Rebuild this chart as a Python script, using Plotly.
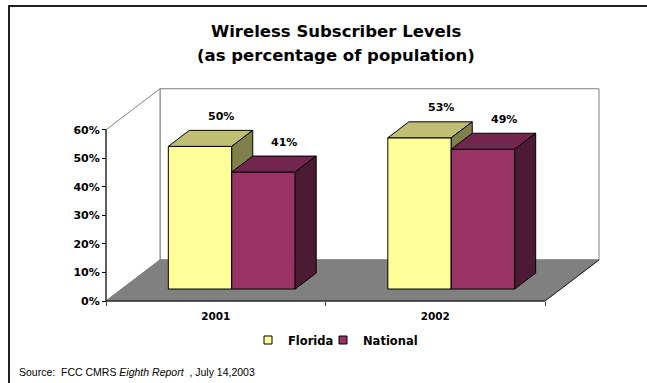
import plotly.graph_objects as go

# ---- data ----
categories = ["2001", "2002"]
series_names = ["Florida", "National"]
florida = [50, 53]
national = [41, 49]
values = [florida, national]
y_tick_values = [0, 10, 20, 30, 40, 50, 60]
y_tick_labels = ["0%", "10%", "20%", "30%", "40%", "50%", "60%"]

# ---- styling ----
front_colors = ["#FFFF99", "#993366"]
top_colors = ["#BFBF73", "#73264D"]
side_colors = ["#80804D", "#4D1A33"]
floor_color = "#808080"
wall_line = "#808080"
BOLD_FONT = "DejaVu Sans"

# canvas / plot-area geometry (pixels)
FIG_W, FIG_H = 647, 383
L, R, T, B = 98, 606, 84, 306
PW, PH = R - L, B - T

# oblique projection of the 3D box, in axis units
X0, X1 = -0.5, len(categories) - 0.5
Y_MAX = 60
DEPTH_X, DEPTH_Y = 0.246, 14.4          # full floor depth
FRONT_DX, FRONT_DY = 0.0729, 4.2        # bar front plane
BAR_DX, BAR_DY = 0.0957, 5.6            # bar depth
BAR_W = 0.289

# axis ranges so the front-left corner lands where the box starts
px_per_x = 219.5
px_per_y = 2.853
front_left_px = (106, 301)
x_range = [X0 - (front_left_px[0] - L) / px_per_x, X0 + (R - front_left_px[0]) / px_per_x]
y_range = [-(B - front_left_px[1]) / px_per_y, (front_left_px[1] - T) / px_per_y]


def paper_x(px):
    return (px - L) / PW


def paper_y(py):
    return (B - py) / PH


def poly_path(pts):
    return "M " + " L ".join(f"{x},{y}" for x, y in pts) + " Z"


fig = go.Figure()

# ---- walls and floor ----
shapes = []
back_wall = [(X0 + DEPTH_X, DEPTH_Y), (X1 + DEPTH_X, DEPTH_Y),
             (X1 + DEPTH_X, Y_MAX + DEPTH_Y), (X0 + DEPTH_X, Y_MAX + DEPTH_Y)]
left_wall = [(X0, 0), (X0 + DEPTH_X, DEPTH_Y), (X0 + DEPTH_X, Y_MAX + DEPTH_Y), (X0, Y_MAX)]
floor = [(X0, 0), (X1, 0), (X1 + DEPTH_X, DEPTH_Y), (X0 + DEPTH_X, DEPTH_Y)]
shapes.append(dict(type="path", path=poly_path(back_wall), xref="x", yref="y",
                   fillcolor="white", line=dict(color=wall_line, width=1), layer="below"))
shapes.append(dict(type="path", path=poly_path(left_wall), xref="x", yref="y",
                   fillcolor="white", line=dict(color=wall_line, width=1), layer="below"))
shapes.append(dict(type="path", path=poly_path(floor), xref="x", yref="y",
                   fillcolor=floor_color, line=dict(color=floor_color, width=1), layer="below"))
# front and right floor edges
shapes.append(dict(type="line", xref="x", yref="y", x0=X0, y0=0, x1=X1, y1=0,
                   line=dict(color="black", width=1), layer="below"))
shapes.append(dict(type="line", xref="x", yref="y", x0=X1, y0=0, x1=X1 + DEPTH_X, y1=DEPTH_Y,
                   line=dict(color="#202020", width=1), layer="below"))
# value axis line
shapes.append(dict(type="line", xref="x", yref="y", x0=X0, y0=0, x1=X0, y1=Y_MAX,
                   line=dict(color="black", width=1), layer="below"))
# outer frame of the slide
shapes.append(dict(type="rect", xref="paper", yref="paper",
                   x0=paper_x(9), y0=paper_y(420), x1=paper_x(700), y1=paper_y(6),
                   line=dict(color="#222222", width=2), fillcolor="rgba(0,0,0,0)", layer="below"))


def add_face(pts, color):
    xs = [p[0] for p in pts] + [pts[0][0]]
    ys = [p[1] for p in pts] + [pts[0][1]]
    fig.add_trace(go.Scatter(x=xs, y=ys, mode="lines", fill="toself", fillcolor=color,
                             line=dict(color="black", width=1), showlegend=False,
                             hoverinfo="skip"))


annotations = []
n_series = len(series_names)
for i, cat in enumerate(categories):
    for j in range(n_series):
        v = values[j][i]
        x0 = i - n_series * BAR_W / 2 + j * BAR_W + FRONT_DX
        x1 = x0 + BAR_W
        y0 = FRONT_DY
        y1 = FRONT_DY + v
        add_face([(x0, y0), (x1, y0), (x1, y1), (x0, y1)], front_colors[j])
        add_face([(x0, y1), (x1, y1), (x1 + BAR_DX, y1 + BAR_DY), (x0 + BAR_DX, y1 + BAR_DY)], top_colors[j])
        add_face([(x1, y0), (x1 + BAR_DX, y0 + BAR_DY), (x1 + BAR_DX, y1 + BAR_DY), (x1, y1)], side_colors[j])
        annotations.append(dict(x=(x0 + x1) / 2 + BAR_DX, y=y1 + BAR_DY, xref="x", yref="y",
                                text=f"{v}%", showarrow=False, yshift=14,
                                font=dict(family=BOLD_FONT, size=11, color="black", weight="bold")))

# legend entries (the first one kept compact so the two sit close together)
legend_widths = [30, None]
for j, name in enumerate(series_names):
    fig.add_trace(go.Scatter(x=[None], y=[None], mode="markers", name=name,
                             legendwidth=legend_widths[j],
                             marker=dict(symbol="square", size=8, color=front_colors[j],
                                         line=dict(color="black", width=1))))

# titles and source note
annotations.append(dict(x=paper_x(336), y=paper_y(31), xref="paper", yref="paper",
                        text="Wireless Subscriber Levels", showarrow=False,
                        xanchor="center", yanchor="middle",
                        font=dict(family=BOLD_FONT, size=16.5, color="black", weight="bold")))
annotations.append(dict(x=paper_x(336), y=paper_y(56), xref="paper", yref="paper",
                        text="(as percentage of population)", showarrow=False,
                        xanchor="center", yanchor="middle",
                        font=dict(family=BOLD_FONT, size=16.5, color="black", weight="bold")))
annotations.append(dict(x=paper_x(17), y=paper_y(372), xref="paper", yref="paper",
                        text="Source:  FCC CMRS <i>Eighth Report</i>  , July 14,2003",
                        showarrow=False, xanchor="left", yanchor="middle",
                        font=dict(family="Liberation Sans, Arial", size=10.5, color="black")))

fig.update_layout(
    width=FIG_W, height=FIG_H, autosize=False,
    margin=dict(l=L, r=FIG_W - R, t=T, b=FIG_H - B, pad=0),
    paper_bgcolor="white", plot_bgcolor="rgba(0,0,0,0)",
    shapes=shapes, annotations=annotations,
    showlegend=True,
    legend=dict(orientation="h", x=paper_x(248), xanchor="left",
                y=paper_y(340), yanchor="middle",
                font=dict(family=BOLD_FONT, size=11.5, color="black", weight="bold"),
                itemwidth=30, tracegroupgap=0, bgcolor="rgba(0,0,0,0)"),
    xaxis=dict(range=x_range, anchor="free", position=paper_y(301),
               tickmode="array", tickvals=list(range(len(categories))), ticktext=categories,
               ticks="", showgrid=False, zeroline=False, showline=False,
               tickfont=dict(family=BOLD_FONT, size=10.5, color="black", weight="bold"),
               ticklabelstandoff=7,
               minor=dict(tickmode="array", tickvals=[X0 + k for k in range(len(categories) + 1)],
                          ticks="outside", ticklen=4, tickcolor="#404040", showgrid=False)),
    yaxis=dict(range=y_range, anchor="free", position=paper_x(106),
               tickmode="array", tickvals=y_tick_values, ticktext=y_tick_labels,
               ticks="outside", ticklen=4, tickcolor="black",
               showgrid=False, zeroline=False, showline=False,
               tickfont=dict(family=BOLD_FONT, size=11, color="black", weight="bold")),
)

fig.write_html("out.html", config={"displayModeBar": False})
